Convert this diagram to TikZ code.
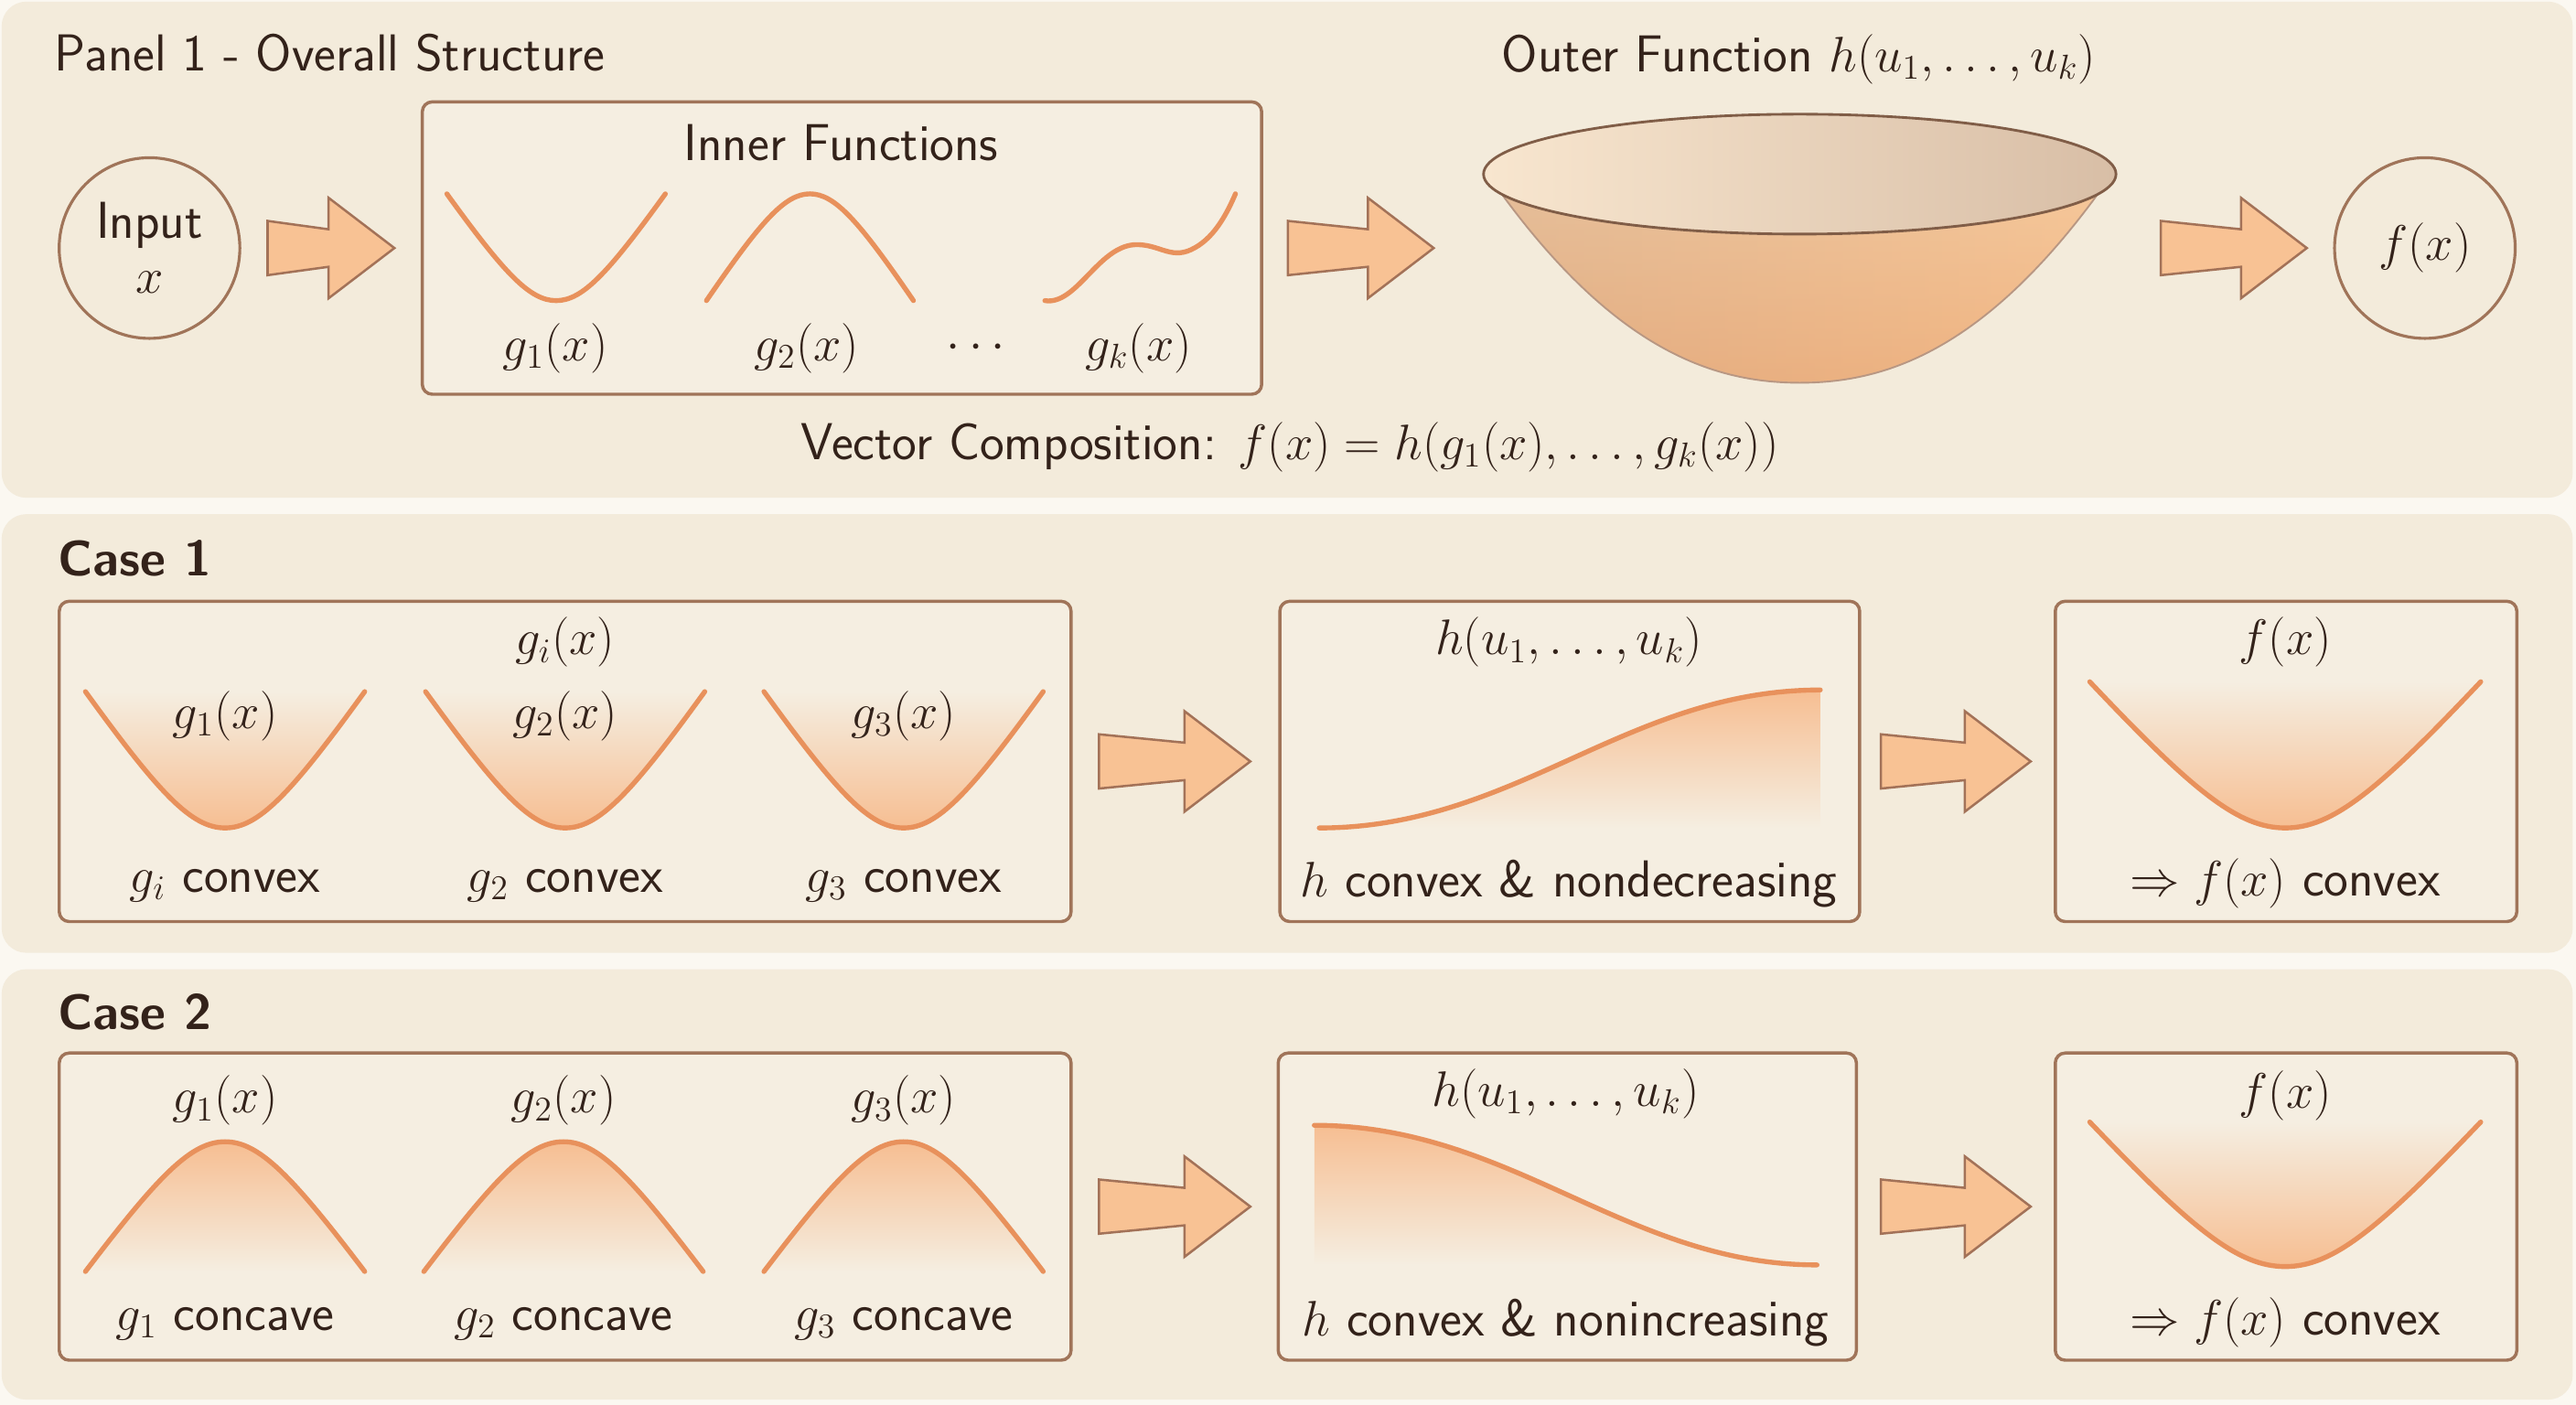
\documentclass[tikz,border=0pt]{standalone}
\usepackage{fontspec}
\renewcommand{\familydefault}{\sfdefault}
\usetikzlibrary{calc}

\definecolor{PageBack}{HTML}{FBF8F1}
\definecolor{PanelFill}{HTML}{F3EBDB}
\definecolor{BoxFill}{HTML}{F5EEE1}
\definecolor{BoxLine}{HTML}{A07459}
\definecolor{Ink}{HTML}{33221A}
\definecolor{CurveLine}{HTML}{E8915C}
\definecolor{CurveFill}{HTML}{F6BE92}
\definecolor{ArrowFill}{HTML}{F8C294}
\definecolor{ArrowLine}{HTML}{A37258}
\definecolor{BowlGrey}{HTML}{D0B39A}
\definecolor{BowlPeach}{HTML}{F6C99C}
\definecolor{BowlOrange}{HTML}{F0A56C}
\definecolor{RimLight}{HTML}{F8E6CF}
\definecolor{RimDark}{HTML}{D8BEA6}
\colorlet{RimLine}{BoxLine!80!black}

\newcommand\cupcurve[4]{({#1-#3},{#2}) .. controls ({#1-0.47*#3},{#2+0.75*(#4)}) and ({#1-0.24*#3},{#2+(#4)}) .. ({#1},{#2+(#4)}) .. controls ({#1+0.24*#3},{#2+(#4)}) and ({#1+0.47*#3},{#2+0.75*(#4)}) .. ({#1+#3},{#2})}
\newcommand\bowlside{(914,118) .. controls (985,215) and (1045,233) .. (1095.5,233) .. controls (1146,233) and (1206,215) .. (1277,118)}
\newcommand\blockarrow[2]{\draw[fatarrow] let \p1=#1, \p2=#2 in (\x1,\y1+9.4pt) -- (\x2-22.8pt,\y1+6.5pt) -- (\x2-22.8pt,\y1+17.4pt) -- (\x2,\y1) -- (\x2-22.8pt,\y1-17.4pt) -- (\x2-22.8pt,\y1-6.5pt) -- (\x1,\y1-9.4pt) -- cycle;}

\tikzset{
  panel/.style={fill=PanelFill, rounded corners=0.3cm},
  box/.style={rectangle, draw=BoxLine, line width=1.1pt, fill=BoxFill, rounded corners=0.12cm},
  io/.style={circle, draw=BoxLine, line width=1pt, minimum size=2.2cm, align=center, text=Ink},
  curve/.style={draw=CurveLine, line width=1.7pt, line cap=round},
  fatarrow/.style={fill=ArrowFill, draw=ArrowLine, line width=0.8pt, line join=miter},
  lbl/.style={text=Ink, inner sep=1pt},
  head/.style={text=Ink, anchor=west, inner sep=0pt},
  casehead/.style={head, font=\fontsize{17.28}{20}\selectfont\bfseries},
}

\begin{document}
\begin{tikzpicture}[x=0.02cm, y=-0.02cm, font=\fontsize{18}{21}\selectfont]

\useasboundingbox (0,0) rectangle (1568,855);
\fill[PageBack] (0,0) rectangle (1568,855);
\fill[panel] (1,1) rectangle (1566,303);
\fill[panel] (1,313) rectangle (1566,580);
\fill[panel] (1,590) rectangle (1566,852);

\node[head] (paneltitle) at (33,32) {Panel 1 - Overall Structure};
\node[io] (input) at (91,151) {Input\\[-2pt]$x$};
\node[box, minimum width=10.22cm, minimum height=3.56cm] (inner) at (512.5,151) {};
\node[lbl] (innertitle) at (512,87) {Inner Functions};
\draw[curve] \cupcurve{338.5}{118}{66.5}{65};
\draw[curve] \cupcurve{493}{183}{63}{-65};
\draw[curve] (636,183) .. controls (655,186) and (668,151) .. (690,149) .. controls (705,148) and (712,158) .. (725,152) .. controls (738,146) and (746,132) .. (752,118);
\node[lbl] (gone) at (338,212) {$g_1(x)$};
\node[lbl] (gtwo) at (491,212) {$g_2(x)$};
\node[lbl] (gdots) at (594,212) {$\cdots$};
\node[lbl] (gk) at (693,212) {$g_k(x)$};

\node[minimum width=7.7cm, minimum height=2.7cm, inner sep=0pt] (outer) at (1095.5,151) {};
\node[lbl] (outertitle) at (1095,36) {Outer Function $h(u_1,\ldots,u_k)$};
\coordinate (rim) at (1095.5,106);
\shade[left color=BowlGrey, right color=BowlPeach] \bowlside -- (1288,106) -- (903,106) -- cycle;
\shade[top color=BowlPeach, bottom color=BowlOrange, fill opacity=0.55] \bowlside -- (1288,106) -- (903,106) -- cycle;
\draw[BoxLine!75, line width=0.6pt] \bowlside;
\shadedraw[left color=RimLight, middle color=RimLight!70!RimDark, right color=RimDark, draw=RimLine, line width=0.9pt] (rim) ellipse [x radius=192.5, y radius=36.5];

\node[io] (fx) at (1476,151) {$f(x)$};
\node[lbl] (composition) at (785,272) {Vector Composition: $f(x) = h(g_1(x),\ldots,g_k(x))$};

\blockarrow{($(input.east)+(16,0)$)}{($(inner.west)-(16,0)$)}
\blockarrow{($(inner.east)+(15,0)$)}{($(outer.west)-(30,0)$)}
\blockarrow{($(outer.east)+(27,0)$)}{($(fx.west)-(16,0)$)}

\node[casehead] (caseone) at (35,340) {Case 1};
\node[box, minimum width=12.32cm, minimum height=3.9cm] (oneG) at (344,463.5) {};
\node[box, minimum width=7.06cm, minimum height=3.9cm] (oneH) at (955.5,463.5) {};
\node[box, minimum width=5.62cm, minimum height=3.9cm] (oneF) at (1391.5,463.5) {};
\node[lbl] (oneGtitle) at (344,391) {$g_i(x)$};
\foreach \cx/\k/\s in {137/1/i,344/2/2,550/3/3}{
  \shade[top color=BoxFill, bottom color=CurveFill] \cupcurve{\cx}{421}{85}{83} -- cycle;
  \draw[curve] \cupcurve{\cx}{421}{85}{83};
  \node[lbl] (oneg\k) at (\cx,436) {$g_{\k}(x)$};
  \node[lbl] (onegtext\k) at (\cx,539) {$g_{\s}$ convex};
}
\node[lbl] (oneHtitle) at (955,391) {$h(u_1,\ldots,u_k)$};
\shade[top color=CurveFill, bottom color=BoxFill] (803,504) .. controls (923,504) and (990,420) .. (1108,420) -- (1108,504) -- cycle;
\draw[curve] (803,504) .. controls (923,504) and (990,420) .. (1108,420);
\node[lbl] (oneHtext) at (955,538) {$h$ convex \& nondecreasing};
\node[lbl] (oneFtitle) at (1391,391) {$f(x)$};
\shade[top color=BoxFill, bottom color=CurveFill] \cupcurve{1391}{415}{119}{89} -- cycle;
\draw[curve] \cupcurve{1391}{415}{119}{89};
\node[lbl] (oneFtext) at (1391,538) {$\Rightarrow f(x)$ convex};
\blockarrow{($(oneG.east)+(16,0)$)}{($(oneH.west)-(17,0)$)}
\blockarrow{($(oneH.east)+(12,0)$)}{($(oneF.west)-(14,0)$)}

\node[casehead] (casetwo) at (35,616) {Case 2};
\node[box, minimum width=12.32cm, minimum height=3.74cm] (twoG) at (344,734.5) {};
\node[box, minimum width=7.04cm, minimum height=3.74cm] (twoH) at (954,734.5) {};
\node[box, minimum width=5.62cm, minimum height=3.74cm] (twoF) at (1391.5,734.5) {};
\foreach \cx/\k in {137/1,343/2,550/3}{
  \shade[top color=CurveFill, bottom color=BoxFill] \cupcurve{\cx}{774}{85}{-79} -- cycle;
  \draw[curve] \cupcurve{\cx}{774}{85}{-79};
  \node[lbl] (twog\k) at (\cx,670) {$g_{\k}(x)$};
  \node[lbl] (twogtext\k) at (\cx,806) {$g_{\k}$ concave};
}
\node[lbl] (twoHtitle) at (953,666) {$h(u_1,\ldots,u_k)$};
\shade[top color=CurveFill, bottom color=BoxFill] (800,685) .. controls (920,685) and (990,770) .. (1106,770) -- (800,770) -- cycle;
\draw[curve] (800,685) .. controls (920,685) and (990,770) .. (1106,770);
\node[lbl] (twoHtext) at (953,805) {$h$ convex \& nonincreasing};
\node[lbl] (twoFtitle) at (1391,667) {$f(x)$};
\shade[top color=BoxFill, bottom color=CurveFill] \cupcurve{1391}{683}{119}{88} -- cycle;
\draw[curve] \cupcurve{1391}{683}{119}{88};
\node[lbl] (twoFtext) at (1391,805) {$\Rightarrow f(x)$ convex};
\blockarrow{($(twoG.east)+(16,0)$)}{($(twoH.west)-(16,0)$)}
\blockarrow{($(twoH.east)+(14,0)$)}{($(twoF.west)-(14,0)$)}

\end{tikzpicture}
\end{document}
